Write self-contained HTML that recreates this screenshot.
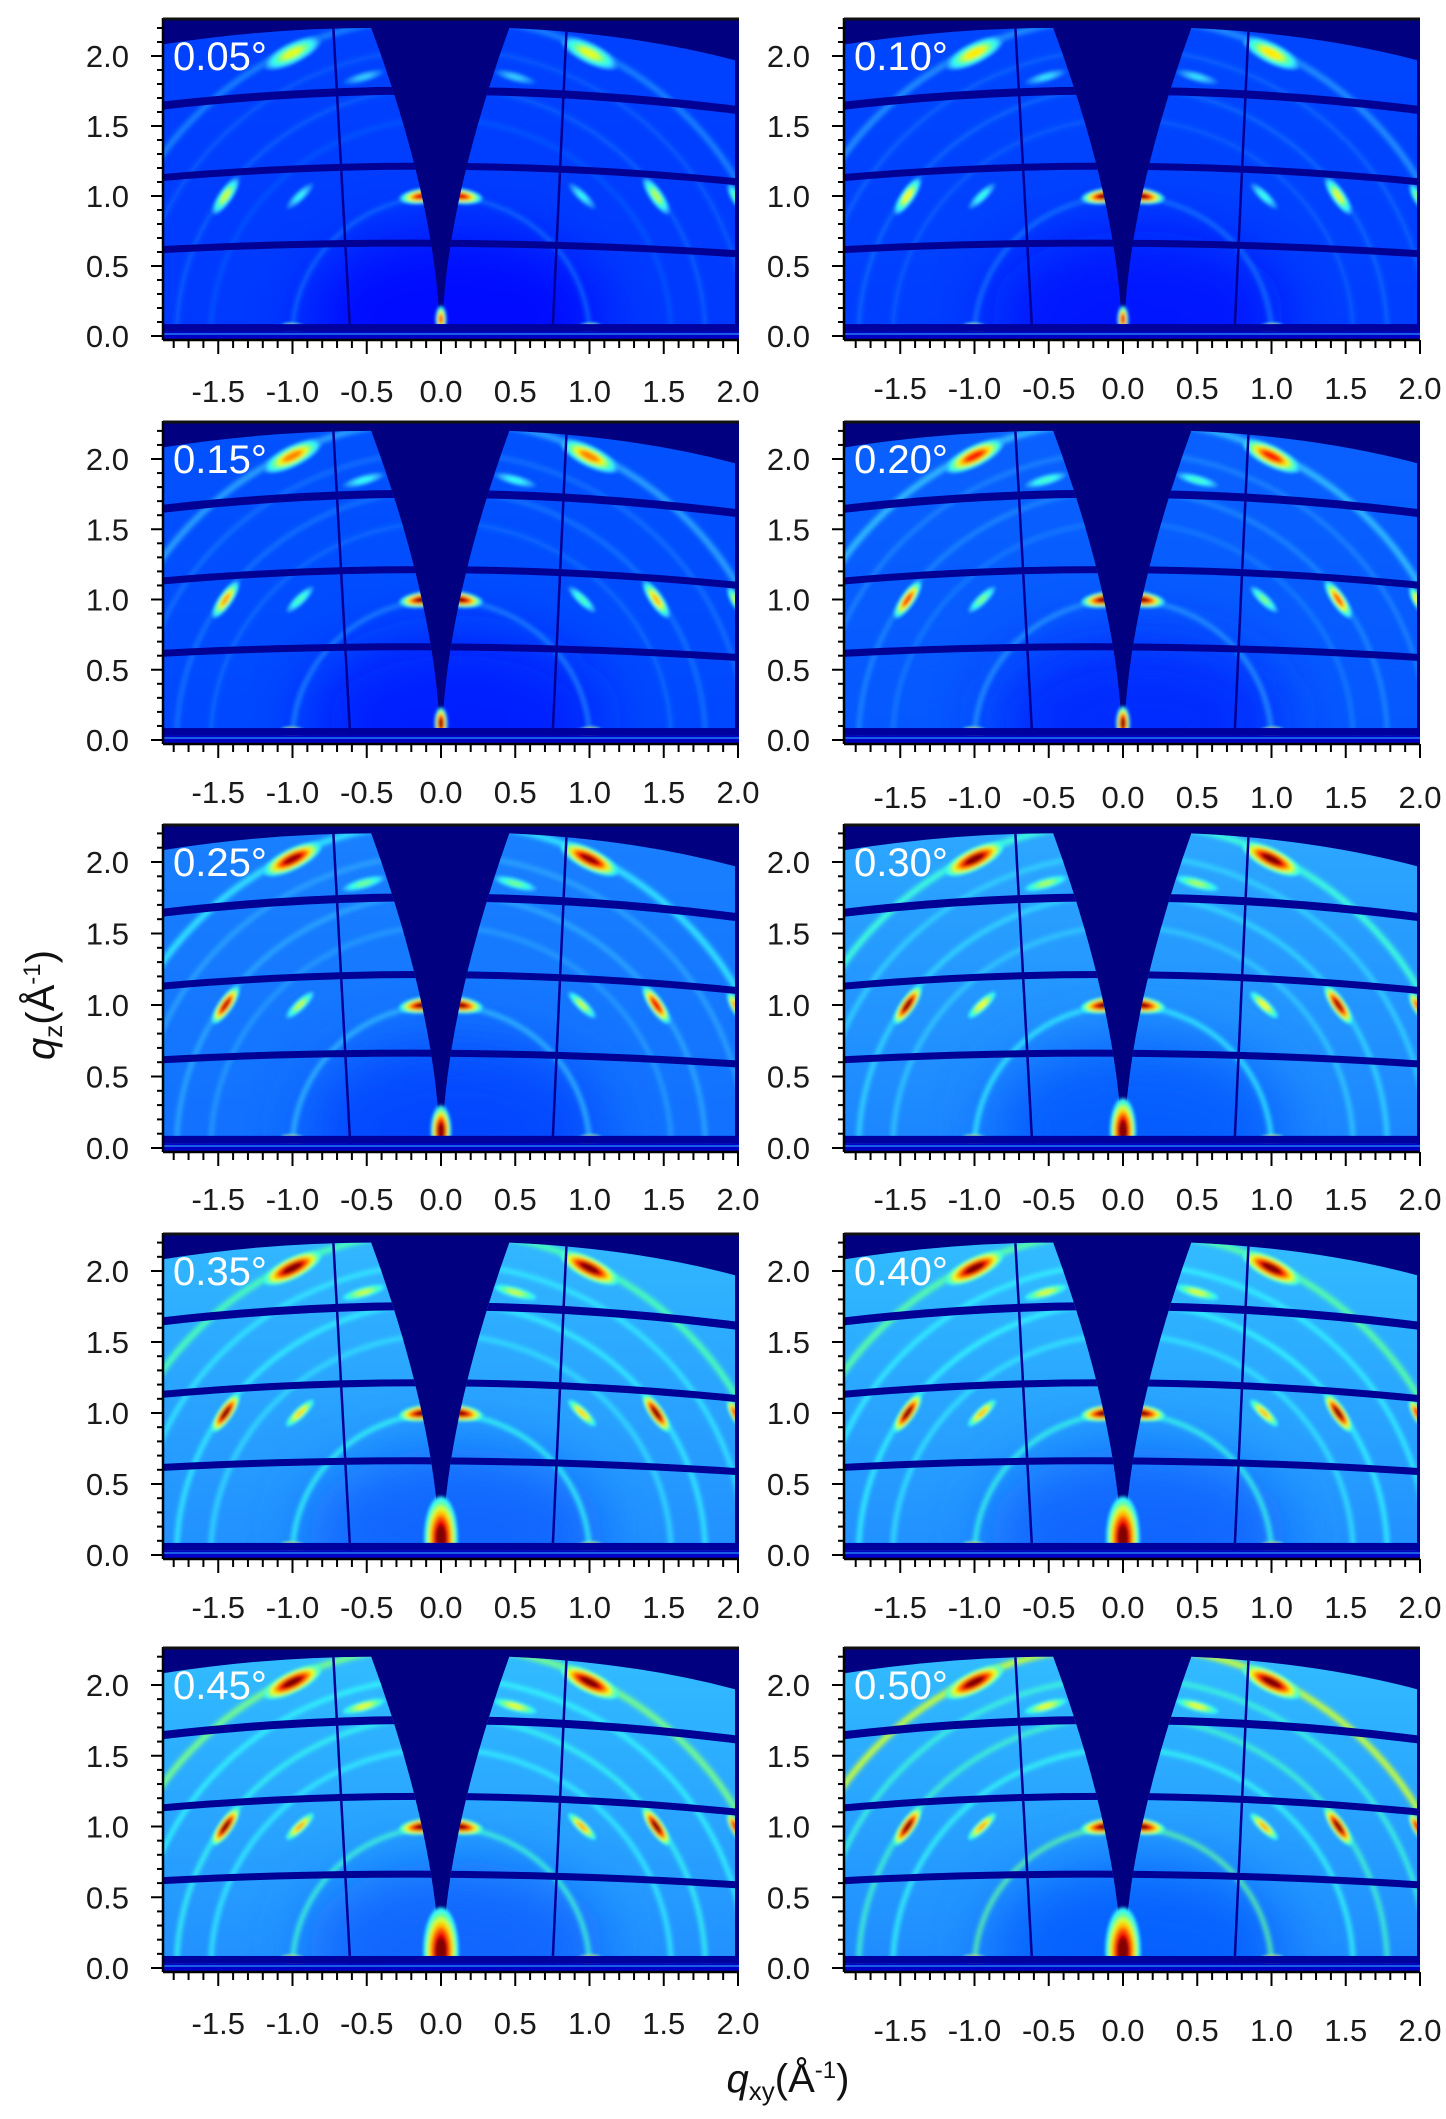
<!DOCTYPE html>
<html><head><meta charset="utf-8"><style>
html,body{margin:0;padding:0;background:#fff;width:1446px;height:2119px;overflow:hidden;}
svg{display:block;}
text{font-family:"Liberation Sans",Arial,sans-serif;}
</style></head><body>
<svg id="fig" width="1446" height="2119" viewBox="0 0 1446 2119" xmlns="http://www.w3.org/2000/svg">
<defs>
<filter id="blur2" x="-50%" y="-50%" width="200%" height="200%"><feGaussianBlur stdDeviation="2.5"/></filter>
<filter id="blur1" x="-50%" y="-50%" width="200%" height="200%"><feGaussianBlur stdDeviation="1.5"/></filter>
<filter id="blur8" x="-50%" y="-50%" width="200%" height="200%"><feGaussianBlur stdDeviation="30"/></filter>
</defs>
<text transform="translate(54,1005) rotate(-90)" text-anchor="middle" font-size="40" fill="#111"><tspan font-style="italic">q</tspan><tspan font-size="26" dy="8">z</tspan><tspan dy="-8">(Å</tspan><tspan font-size="24" dy="-14">-1</tspan><tspan dy="14">)</tspan></text>
<text x="788" y="2092" text-anchor="middle" font-size="40" fill="#111"><tspan font-style="italic">q</tspan><tspan font-size="26" dy="8">xy</tspan><tspan dy="-8">(Å</tspan><tspan font-size="24" dy="-14">-1</tspan><tspan dy="14">)</tspan></text>
</svg>
<script>
// ---- data ----
const angleLabels = ['0.05°','0.10°','0.15°','0.20°','0.25°','0.30°','0.35°','0.40°','0.45°','0.50°'];
const bgTop =    [0.19,0.195,0.205,0.22,0.25,0.29,0.305,0.31,0.31,0.31];
const bgBottom = [0.18,0.185,0.195,0.21,0.235,0.255,0.265,0.265,0.265,0.26];
const spotGain = [0.45,0.5,0.6,0.7,0.8,0.85,0.9,0.95,1.0,1.0];
const ringGain = [0.3,0.35,0.4,0.45,0.5,0.6,0.7,0.75,0.9,1.3];
const beamSize = [0.6,0.6,0.7,0.75,1.1,1.4,1.8,1.8,1.9,1.9];
const spotQxy = [-1.0, 1.0, -1.45, 1.45, -0.95, 0.95, -0.12, 0.12, 0.0, -1.0, 1.0, -0.52, 0.5, 1.98, 1.98];
const spotQz  = [2.02, 2.02, 1.0, 1.0, 1.0, 1.0, 1.0, 1.0, 0.12, 0.06, 0.06, 1.85, 1.85, 1.0, 2.05];
const spotBase= [0.9, 0.9, 0.85, 0.8, 0.4, 0.4, 1.6, 1.6, 1.4, 1.4, 1.4, 0.3, 0.3, 0.6, 0.5];
const spotTan = [0.17, 0.17, 0.12, 0.12, 0.10, 0.10, 0.13, 0.13, 0.05, 0.025, 0.025, 0.12, 0.12, 0.08, 0.05];
const spotRad = [0.06, 0.06, 0.04, 0.04, 0.03, 0.03, 0.045, 0.045, 0.13, 0.07, 0.07, 0.03, 0.03, 0.03, 0.03];
const ringRadius = [1.0, 1.55, 1.78, 2.05, 2.28];
const ringBase   = [0.12, 0.06, 0.09, 0.08, 0.2];
const bandMidQz  = [1.76, 1.22, 0.67];
const bandEdgeQz = [1.63, 1.12, 0.61];
const xTicks = [-1.5,-1.0,-0.5,0.0,0.5,1.0,1.5,2.0];
const yTicks = [0.0,0.5,1.0,1.5,2.0];

// ---- layout ----
const svg = document.getElementById('fig');
const NS = 'http://www.w3.org/2000/svg';
const rowTop = [18, 421, 824, 1233, 1647];
const rowBot = [340, 744, 1152, 1559, 1972];
const colLeft = [163, 844], colRight = [739, 1420], colZero = [441, 1123];
const xLabY = [[391,388],[792,797],[1199,1199],[1607,1607],[2023,2030]];
const UX = 148.5;

function jet(v){
  v = Math.max(0, Math.min(1, v));
  const c = t => Math.round(255*Math.max(0, Math.min(1, t)));
  let r = c(1.5-Math.abs(4*v-3)), g = c(1.5-Math.abs(4*v-2)), b = c(1.5-Math.abs(4*v-1));
  if (v > 0.2 && v < 0.45) { const m = Math.min(1,(v-0.2)/0.1)*Math.min(1,(0.45-v)/0.08); r = Math.round(r + 50*m); }
  return 'rgb('+r+','+g+','+b+')';
}
function mk(tag, attrs, parent){
  const e = document.createElementNS(NS, tag);
  for (const k in attrs) e.setAttribute(k, attrs[k]);
  (parent||svg).appendChild(e);
  return e;
}
function drawSpot(parent, i, p, bgv, X, Y, UY){
  const peak = Math.min(1, bgv + spotBase[i]*spotGain[p]);
  const cx = X(spotQxy[i]), cy = Y(spotQz[i]);
  const ang = Math.atan2(-(spotQz[i]), spotQxy[i])*180/Math.PI + 90;
  const spot = mk('g', {transform:'translate('+cx+','+cy+') rotate('+ang+')'}, parent);
  
  
  const sz = (i === 8) ? beamSize[p] : 1;
  const n = 6;
  for (let k = 0; k <= n; k++){
    const v = bgv + (peak - bgv)*(k+1)/(n+1);
    const s = (1.25 - k/(n+1))*sz;
    mk('ellipse', {cx:0, cy:0, rx:spotTan[i]*UX*s, ry:spotRad[i]*UY*s, fill:jet(v)}, spot);
  }
}

for (let p = 0; p < 10; p++){
  const r = Math.floor(p/2), c = p%2;
  const L = colLeft[c], R = colRight[c], T = rowTop[r], B = rowBot[r];
  const y0 = B - 4, UY = (B - T - 42)/2;
  const X = q => colZero[c] + q*UX;
  const Y = q => y0 - q*UY;
  const g = mk('g', {});
  
  
  const cp = mk('clipPath', {id:'pc'+p}, g);
  mk('rect', {x:L, y:T, width:R-L, height:B-T}, cp);
  const dc = mk('clipPath', {id:'dc'+p}, g);
  const det = 'M'+X(-1.95)+','+Y(-0.2)+' L'+X(-1.95)+','+Y(2.07)+
    ' Q'+X(-1.2)+','+Y(2.2)+' '+X(-0.47)+','+Y(2.2)+
    ' Q'+X(-0.05)+','+Y(1.0)+' '+X(-0.01)+','+Y(0.1)+
    ' L'+X(0.01)+','+Y(0.1)+
    ' Q'+X(0.05)+','+Y(1.0)+' '+X(0.46)+','+Y(2.2)+
    ' Q'+X(1.3)+','+Y(2.16)+' '+X(1.98)+','+Y(1.97)+
    ' L'+X(1.98)+','+Y(-0.2)+' Z';
  mk('path', {d:det}, dc);
  const pg = mk('g', {'clip-path':'url(#pc'+p+')'}, g);
  mk('rect', {x:L, y:T, width:R-L, height:B-T, fill:jet(0)}, pg);
  const dg = mk('g', {'clip-path':'url(#dc'+p+')'}, pg);
  const gid = 'bg'+p;
  const lg = mk('linearGradient', {id:gid, x1:0, y1:0, x2:0, y2:1}, g);
  mk('stop', {offset:'0', 'stop-color':jet(bgTop[p])}, lg);
  mk('stop', {offset:'1', 'stop-color':jet(bgBottom[p])}, lg);
  const bgRect = mk('rect', {x:L, y:T, width:R-L, height:B-T, fill:'url(#'+gid+')'}, dg);
  
  
  mk('ellipse', {cx:X(0.1), cy:Y(0.15), rx:1.0*UX, ry:0.6*UY, fill:jet(bgBottom[p]-0.05), filter:'url(#blur8)', opacity:0.8}, dg);
  const rg = mk('g', {filter:'url(#blur2)'}, dg);
  for (let i = 0; i < ringRadius.length; i++){
    const rr = ringRadius[i];
    const ring = mk('ellipse', {cx:X(0), cy:Y(0), rx:rr*UX, ry:rr*UY, fill:'none',
      stroke:jet(bgTop[p] + ringBase[i]*ringGain[p]), 'stroke-width': (i===4?6:4)}, rg);
    
    
  }
  const sg = mk('g', {filter:'url(#blur1)'}, dg);
  for (let i = 0; i < spotQxy.length; i++){
    if (i === 8) continue;
    drawSpot(sg, i, p, bgTop[p], X, Y, UY);
  }
  for (let i = 0; i < bandMidQz.length; i++){
    const ctrl = 2*bandMidQz[i] - bandEdgeQz[i];
    const band = mk('path', {d:'M'+X(-2)+','+Y(bandEdgeQz[i])+' Q'+X(0)+','+Y(ctrl)+' '+X(2.1)+','+Y(bandEdgeQz[i]-0.03),
      fill:'none', stroke:jet(0.02), 'stroke-width': (i===0?8:7)}, dg);
    
    
  }
  mk('line', {x1:X(-0.73), y1:Y(2.3), x2:X(-0.61), y2:Y(0), stroke:jet(0.02), 'stroke-width':2.5}, dg);
  mk('line', {x1:X(0.85), y1:Y(2.3), x2:X(0.75), y2:Y(0), stroke:jet(0.02), 'stroke-width':2.5}, dg);
  // beam spot drawn over wedge tip, clipped above bottom gap
  const bc = mk('clipPath', {id:'bc'+p}, g);
  mk('rect', {x:L, y:T, width:R-L, height:Y(0.085)-T}, bc);
  const bg2 = mk('g', {'clip-path':'url(#bc'+p+')', filter:'url(#blur1)'}, pg);
  drawSpot(bg2, 8, p, bgBottom[p], X, Y, UY);
  mk('rect', {x:L, y:Y(0.085), width:R-L, height:Y(0.03)-Y(0.085), fill:jet(0.03)}, pg);
  mk('rect', {x:L, y:Y(0.03), width:R-L, height:B-Y(0.03), fill:jet(0.07)}, pg);
  mk('line', {x1:L, x2:R, y1:Y(0.0)-2, y2:Y(0.0)-2, stroke:jet(0.3), 'stroke-width':1.5, opacity:0.7}, pg);
  const lab = mk('text', {x:L+10, y:T+52, 'font-size':40, fill:'#fff'}, g);
  lab.textContent = angleLabels[p];
  
  
  mk('line', {x1:L, y1:T, x2:L, y2:B, stroke:'#000', 'stroke-width':2.5}, g);
  mk('line', {x1:L, y1:B, x2:R, y2:B, stroke:'#000', 'stroke-width':2.5}, g);
  mk('line', {x1:L, y1:T+1, x2:R, y2:T+1, stroke:'#111', 'stroke-width':3}, g);
  for (let q = 0; q <= 22; q++){
    const yy = Y(q/10); if (yy < T) continue;
    const major = q % 5 === 0;
    mk('line', {x1:L-(major?12:6), y1:yy, x2:L, y2:yy, stroke:'#000', 'stroke-width':2}, g);
  }
  for (const v of yTicks){
    const t = mk('text', {x:L-34, y:Y(v)+11, 'text-anchor':'end', 'font-size':31, fill:'#1a1a1a'}, g);
    t.textContent = v.toFixed(1);
    
    
  }
  for (let q = -18; q <= 20; q++){
    const xx = X(q/10); if (xx < L || xx > R+1) continue;
    const major = q % 5 === 0;
    mk('line', {x1:xx, y1:B, x2:xx, y2:B+(major?14:8), stroke:'#000', 'stroke-width':2}, g);
  }
  for (const v of xTicks){
    const t = mk('text', {x:X(v), y:xLabY[r][c]+11, 'text-anchor':'middle', 'font-size':31, fill:'#1a1a1a'}, g);
    t.textContent = v.toFixed(1);
    
    
  }
}
</script>
</body></html>
